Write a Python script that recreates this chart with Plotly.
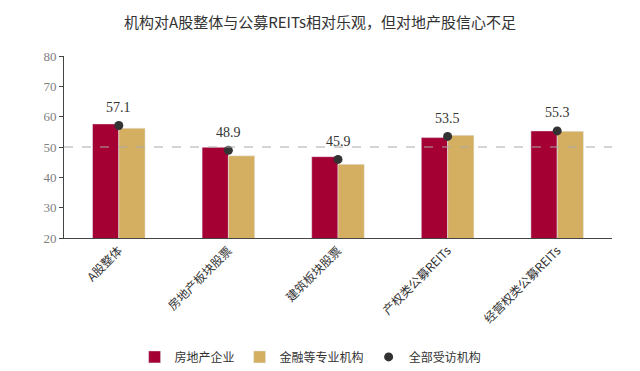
import plotly.graph_objects as go

categories = ["A股整体", "房地产板块股票", "建筑板块股票", "产权类公募REITs", "经营权类公募REITs"]
real_estate = [57.6, 49.9, 46.8, 53.1, 55.3]
financial = [56.2, 47.1, 44.3, 53.9, 55.2]
all_inst = [57.1, 48.9, 45.9, 53.5, 55.3]
y_ticks = [20, 30, 40, 50, 60, 70, 80]

font_main = "Liberation Serif, Noto Sans CJK SC, serif"

fig = go.Figure()
fig.add_trace(go.Bar(name="房地产企业", x=categories, y=real_estate, marker_color="#A50034"))
fig.add_trace(go.Bar(name="金融等专业机构", x=categories, y=financial, marker_color="#D4AF62"))
fig.add_trace(go.Scatter(name="全部受访机构", x=categories, y=all_inst, mode="markers",
                         marker=dict(color="#333333", size=9)))

for c, v in zip(categories, all_inst):
    fig.add_annotation(x=c, y=v, text=f"{v:.1f}", showarrow=False, yshift=18,
                       font=dict(size=14, color="#333333", family=font_main))

fig.add_shape(type="line", xref="paper", x0=0, x1=1, yref="y", y0=50, y1=50,
              line=dict(color="#AAAAAA", width=1, dash="dash"))

fig.update_layout(
    width=640, height=371,
    margin=dict(l=64, r=28, t=56, b=133, autoexpand=False),
    paper_bgcolor="white", plot_bgcolor="white",
    barmode="group", bargap=0.52, bargroupgap=0,
    title=dict(text="机构对A股整体与公募REITs相对乐观，但对地产股信心不足",
               x=0.5, xanchor="center", yref="container", y=0.94, yanchor="middle",
               font=dict(size=15, color="#333333", family="Noto Sans CJK SC")),
    font=dict(family=font_main, color="#333333"),
    showlegend=True,
    legend=dict(orientation="h", x=0.45, xanchor="center", yref="container", y=0.038, yanchor="middle",
                font=dict(size=12, color="#333333", family="Noto Sans CJK SC"),
                itemwidth=30, traceorder="normal"),
    xaxis=dict(tickangle=-45, showline=True, linecolor="#444444", linewidth=1, automargin=False,
               ticks="", tickfont=dict(size=12, color="#333333", family="Noto Sans CJK SC")),
    yaxis=dict(range=[20, 80], tickvals=y_ticks, showgrid=False, zeroline=False, automargin=False,
               showline=True, linecolor="#444444", linewidth=1, ticks="outside", ticklen=4,
               tickcolor="#444444",
               tickfont=dict(size=13, color="#808080", family=font_main)),
)

fig.write_html("out.html", config={"displayModeBar": False},
               post_script="document.body.style.margin='0';")
